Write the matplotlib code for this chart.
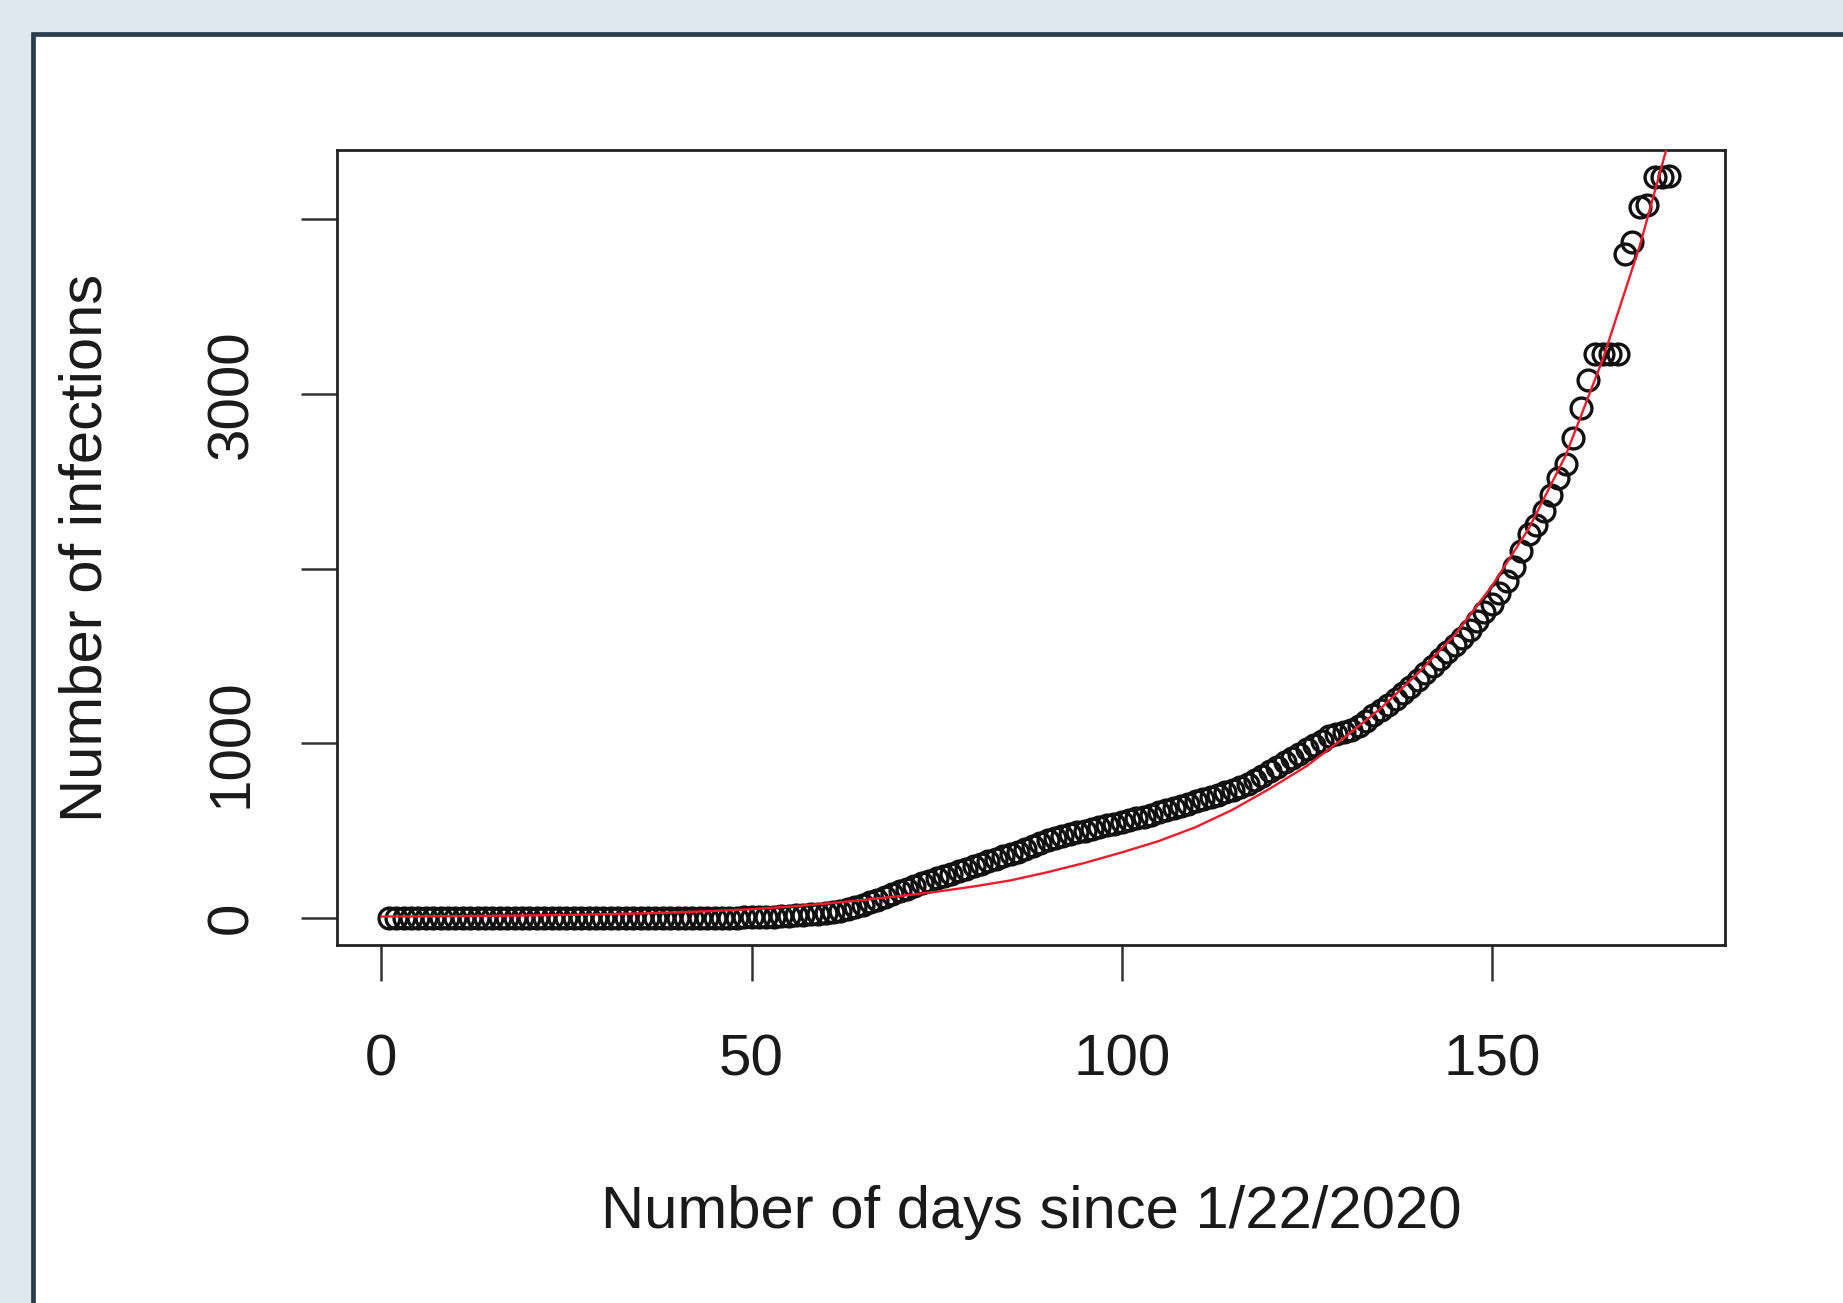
import matplotlib
matplotlib.use("Agg")
import matplotlib.pyplot as plt
from matplotlib.patches import Rectangle

plt.rcParams["font.family"] = ["Liberation Sans", "DejaVu Sans"]

# ── Data ───────────────────────────────────────────────────────────────────────

DAYS = list(range(1, 175))

INFECTIONS = [
    0, 0, 0, 0, 0, 0, 0, 0, 0, 0,
    0, 0, 0, 0, 0, 0, 0, 0, 0, 0,
    0, 0, 0, 0, 0, 0, 0, 0, 0, 0,
    0, 0, 0, 0, 0, 0, 0, 0, 0, 0,
    0, 0, 0, 0, 1, 1, 2, 2, 3, 4,
    5, 6, 8, 10, 12, 14, 17, 20, 24, 28,
    33, 40, 50, 62, 76, 90, 105, 120, 136, 152,
    168, 183, 198, 212, 226, 240, 254, 268, 282, 296,
    310, 324, 338, 352, 366, 380, 394, 410, 428, 445,
    458, 470, 480, 490, 500, 510, 520, 530, 540, 550,
    560, 570, 580, 592, 605, 618, 630, 642, 655, 668,
    680, 692, 705, 720, 735, 750, 768, 790, 815, 840,
    865, 890, 915, 940, 965, 990, 1015, 1040, 1055, 1065,
    1075, 1100, 1130, 1160, 1190, 1220, 1255, 1290, 1325, 1360,
    1400, 1440, 1480, 1520, 1560, 1600, 1650, 1700, 1750, 1800,
    1860, 1930, 2010, 2100, 2200, 2250, 2330, 2420, 2520, 2600,
    2750, 2920, 3080, 3230, 3230, 3230, 3230, 3800, 3870, 4070,
    4080, 4240, 4240, 4250,
]

FIT_DAYS = [0, 5, 10, 15, 20, 25, 30, 35, 40, 45, 50, 55, 60, 65, 70, 75, 80, 85,
            90, 95, 100, 105, 110, 115, 120, 125, 130, 135, 140, 145, 150, 155,
            160, 165, 170, 175]
FIT_VALUES = [8, 9, 10, 12, 14, 17, 21, 26, 32, 40, 50, 64, 82, 102, 125, 150,
              180, 215, 262, 315, 375, 440, 520, 620, 740, 870, 1030, 1200, 1400,
              1620, 1900, 2230, 2650, 3200, 3850, 4620]

X_TICKS = [0, 50, 100, 150]
Y_TICKS = [0, 1000, 2000, 3000, 4000]
Y_TICK_LABELS = ["0", "1000", "", "3000", ""]

X_LABEL = "Number of days since 1/22/2020"
Y_LABEL = "Number of infections"

# ── Figure ─────────────────────────────────────────────────────────────────────

W, H = 1843, 1303
fig = plt.figure(figsize=(W / 100, H / 100), dpi=100, facecolor="#dfe8ef")

# white card with dark border (runs off the right/bottom edge)
fig.patches.append(Rectangle(
    (33 / W, -0.05), 1.1, (H - 34) / H + 0.05,
    transform=fig.transFigure, facecolor="white", edgecolor="#2b3d4a",
    linewidth=3.4, zorder=-10,
))

ax = fig.add_axes([337 / W, (H - 945) / H, (1725 - 337) / W, (945 - 150) / H])
ax.set_zorder(5)
ax.set_facecolor("white")

ax.plot(DAYS, INFECTIONS, linestyle="none", marker="o", markersize=15,
        markerfacecolor="none", markeredgecolor="#111111", markeredgewidth=2.4,
        zorder=2)
ax.plot(FIT_DAYS, FIT_VALUES, color="#f01c2c", linewidth=1.7, zorder=3)

ax.set_xlim(-6, 181.5)
ax.set_ylim(-155, 4397)

ax.set_xticks(X_TICKS)
ax.set_yticks(Y_TICKS)
ax.set_yticklabels(Y_TICK_LABELS, rotation=90, va="center")

for side in ax.spines.values():
    side.set_linewidth(2.0)
    side.set_color("#222222")

ax.tick_params(axis="both", length=26, width=1.8, color="#333333",
               labelsize=42, labelcolor="#1a1a1a")
ax.tick_params(axis="x", pad=38)
ax.tick_params(axis="y", pad=30)

ax.set_xlabel(X_LABEL, fontsize=43, color="#1a1a1a", labelpad=70)
ax.set_ylabel(Y_LABEL, fontsize=43, color="#1a1a1a", labelpad=66)

fig.savefig("out.png", dpi=100, facecolor=fig.get_facecolor())
